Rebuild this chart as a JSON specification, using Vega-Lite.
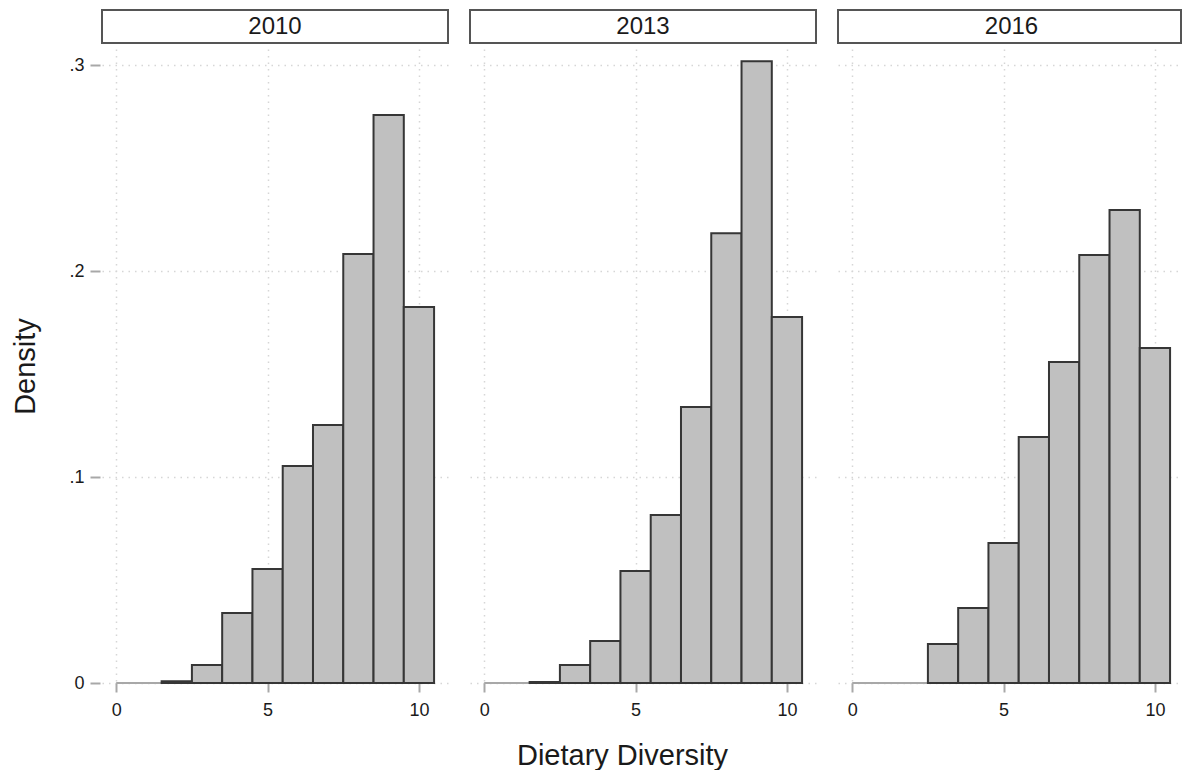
{
  "$schema": "https://vega.github.io/schema/vega-lite/v6.json",
  "padding": {"top": 9, "left": 11, "right": 0, "bottom": 0},
  "datasets": {
    "years": [{"year": "2010"}, {"year": "2013"}, {"year": "2016"}],
    "hist": [
      {"year": "2010", "bin_start": 1.5, "bin_end": 2.5, "density": 0.0008},
      {"year": "2010", "bin_start": 2.5, "bin_end": 3.5, "density": 0.0087},
      {"year": "2010", "bin_start": 3.5, "bin_end": 4.5, "density": 0.034},
      {"year": "2010", "bin_start": 4.5, "bin_end": 5.5, "density": 0.0553},
      {"year": "2010", "bin_start": 5.5, "bin_end": 6.5, "density": 0.1053},
      {"year": "2010", "bin_start": 6.5, "bin_end": 7.5, "density": 0.1252},
      {"year": "2010", "bin_start": 7.5, "bin_end": 8.5, "density": 0.2083},
      {"year": "2010", "bin_start": 8.5, "bin_end": 9.5, "density": 0.2757},
      {"year": "2010", "bin_start": 9.5, "bin_end": 10.5, "density": 0.1825},
      {"year": "2013", "bin_start": 1.5, "bin_end": 2.5, "density": 0.0005},
      {"year": "2013", "bin_start": 2.5, "bin_end": 3.5, "density": 0.0087},
      {"year": "2013", "bin_start": 3.5, "bin_end": 4.5, "density": 0.0204},
      {"year": "2013", "bin_start": 4.5, "bin_end": 5.5, "density": 0.0544},
      {"year": "2013", "bin_start": 5.5, "bin_end": 6.5, "density": 0.0816},
      {"year": "2013", "bin_start": 6.5, "bin_end": 7.5, "density": 0.1340},
      {"year": "2013", "bin_start": 7.5, "bin_end": 8.5, "density": 0.2184},
      {"year": "2013", "bin_start": 8.5, "bin_end": 9.5, "density": 0.3019},
      {"year": "2013", "bin_start": 9.5, "bin_end": 10.5, "density": 0.1777},
      {"year": "2016", "bin_start": 2.5, "bin_end": 3.5, "density": 0.0189},
      {"year": "2016", "bin_start": 3.5, "bin_end": 4.5, "density": 0.0364},
      {"year": "2016", "bin_start": 4.5, "bin_end": 5.5, "density": 0.0680},
      {"year": "2016", "bin_start": 5.5, "bin_end": 6.5, "density": 0.1194},
      {"year": "2016", "bin_start": 6.5, "bin_end": 7.5, "density": 0.1558},
      {"year": "2016", "bin_start": 7.5, "bin_end": 8.5, "density": 0.2078},
      {"year": "2016", "bin_start": 8.5, "bin_end": 9.5, "density": 0.2296},
      {"year": "2016", "bin_start": 9.5, "bin_end": 10.5, "density": 0.1626}
    ],
    "base": [
      {"year": "2010", "from": 0, "to": 10.5, "level": 0},
      {"year": "2013", "from": 0, "to": 10.5, "level": 0},
      {"year": "2016", "from": 0, "to": 10.5, "level": 0}
    ]
  },
  "spacing": 20,
  "hconcat": [
    {
      "spacing": 5,
      "vconcat": [
        {
          "width": 346, "height": 33,
          "data": {"name": "years"},
          "transform": [{"filter": "datum.year == '2010'"}],
          "view": {"stroke": "#555555", "strokeWidth": 2, "fill": "white"},
          "mark": {"type": "text", "fontSize": 24, "font": "Liberation Sans", "color": "#1a1a1a", "baseline": "middle"},
          "encoding": {"text": {"field": "year", "type": "nominal"}}
        },
        {
          "width": 346, "height": 634,
          "layer": [
            {
              "data": {"name": "base"},
              "transform": [{"filter": "datum.year == '2010'"}],
              "mark": {"type": "rule", "color": "#a8a8a8", "strokeWidth": 2},
              "encoding": {
                "x": {"field": "from", "type": "quantitative"},
                "x2": {"field": "to"},
                "y": {"field": "level", "type": "quantitative"}
              }
            },
            {
              "data": {"name": "hist"},
              "transform": [{"filter": "datum.year == '2010'"}],
              "mark": {"type": "bar", "fill": "#c0c0c0", "stroke": "#363636", "strokeWidth": 2},
              "encoding": {
                "x": {"field": "bin_start", "type": "quantitative", "scale": {"domain": [-0.47, 10.96], "nice": false, "zero": false},
                      "axis": {"values": [0, 5, 10], "title": null}},
                "x2": {"field": "bin_end"},
                "y": {"field": "density", "type": "quantitative", "scale": {"domain": [0, 0.3078], "nice": false},
                      "axis": {"values": [0, 0.1, 0.2, 0.3], "title": "Density", "domain": false, "offset": 2,
                               "labelExpr": "datum.value == 0 ? '0' : replace(format(datum.value, '.1f'), '0.', '.')",
                               "tickSize": 10, "labelPadding": 6, "titlePadding": 28}},
                "y2": {"datum": 0}
              }
            },
            {
              "mark": {"type": "rule", "color": "#a0a0a0", "strokeWidth": 2},
              "encoding": {
                "x": {"datum": -0.536, "type": "quantitative"},
                "y": {"datum": 0, "type": "quantitative"},
                "y2": {"datum": 0.3}
              }
            }
          ]
        }
      ]
    },
    {
      "spacing": 5,
      "vconcat": [
        {
          "width": 346, "height": 33,
          "data": {"name": "years"},
          "transform": [{"filter": "datum.year == '2013'"}],
          "view": {"stroke": "#555555", "strokeWidth": 2, "fill": "white"},
          "mark": {"type": "text", "fontSize": 24, "font": "Liberation Sans", "color": "#1a1a1a", "baseline": "middle"},
          "encoding": {"text": {"field": "year", "type": "nominal"}}
        },
        {
          "width": 346, "height": 634,
          "layer": [
            {
              "data": {"name": "base"},
              "transform": [{"filter": "datum.year == '2013'"}],
              "mark": {"type": "rule", "color": "#a8a8a8", "strokeWidth": 2},
              "encoding": {
                "x": {"field": "from", "type": "quantitative"},
                "x2": {"field": "to"},
                "y": {"field": "level", "type": "quantitative"}
              }
            },
            {
              "data": {"name": "hist"},
              "transform": [{"filter": "datum.year == '2013'"}],
              "mark": {"type": "bar", "fill": "#c0c0c0", "stroke": "#363636", "strokeWidth": 2},
              "encoding": {
                "x": {"field": "bin_start", "type": "quantitative", "scale": {"domain": [-0.47, 10.96], "nice": false, "zero": false},
                      "axis": {"values": [0, 5, 10], "title": "Dietary Diversity", "titleX": 152, "titlePadding": 22}},
                "x2": {"field": "bin_end"},
                "y": {"field": "density", "type": "quantitative", "scale": {"domain": [0, 0.3078], "nice": false},
                      "axis": {"values": [0, 0.1, 0.2, 0.3], "title": null, "labels": false, "ticks": false, "domain": false}},
                "y2": {"datum": 0}
              }
            }
          ]
        }
      ]
    },
    {
      "spacing": 5,
      "vconcat": [
        {
          "width": 343, "height": 33,
          "data": {"name": "years"},
          "transform": [{"filter": "datum.year == '2016'"}],
          "view": {"stroke": "#555555", "strokeWidth": 2, "fill": "white"},
          "mark": {"type": "text", "fontSize": 24, "font": "Liberation Sans", "color": "#1a1a1a", "baseline": "middle", "dx": 2},
          "encoding": {"text": {"field": "year", "type": "nominal"}}
        },
        {
          "width": 343, "height": 634,
          "layer": [
            {
              "data": {"name": "base"},
              "transform": [{"filter": "datum.year == '2016'"}],
              "mark": {"type": "rule", "color": "#a8a8a8", "strokeWidth": 2},
              "encoding": {
                "x": {"field": "from", "type": "quantitative"},
                "x2": {"field": "to"},
                "y": {"field": "level", "type": "quantitative"}
              }
            },
            {
              "data": {"name": "hist"},
              "transform": [{"filter": "datum.year == '2016'"}],
              "mark": {"type": "bar", "fill": "#c0c0c0", "stroke": "#363636", "strokeWidth": 2},
              "encoding": {
                "x": {"field": "bin_start", "type": "quantitative", "scale": {"domain": [-0.47, 10.861], "nice": false, "zero": false},
                      "axis": {"values": [0, 5, 10], "title": null}},
                "x2": {"field": "bin_end"},
                "y": {"field": "density", "type": "quantitative", "scale": {"domain": [0, 0.3078], "nice": false},
                      "axis": {"values": [0, 0.1, 0.2, 0.3], "title": null, "labels": false, "ticks": false, "domain": false}},
                "y2": {"datum": 0}
              }
            }
          ]
        }
      ]
    }
  ],
  "config": {
    "font": "Liberation Sans",
    "view": {"stroke": null},
    "axis": {
      "labelFont": "Liberation Sans", "labelFontSize": 18, "labelColor": "#1a1a1a",
      "titleFont": "Liberation Sans", "titleFontSize": 29, "titleFontWeight": "normal", "titleColor": "#1a1a1a",
      "domainColor": "#a0a0a0", "domainWidth": 2,
      "tickColor": "#a8a8a8", "tickWidth": 2,
      "grid": true, "gridColor": "#d6d6d6", "gridDash": [1.5, 5], "gridWidth": 1.5
    },
    "axisX": {"domain": false, "tickSize": 9, "labelPadding": 9},
    "axisY": {"labelBaseline": "middle"}
  }
}
